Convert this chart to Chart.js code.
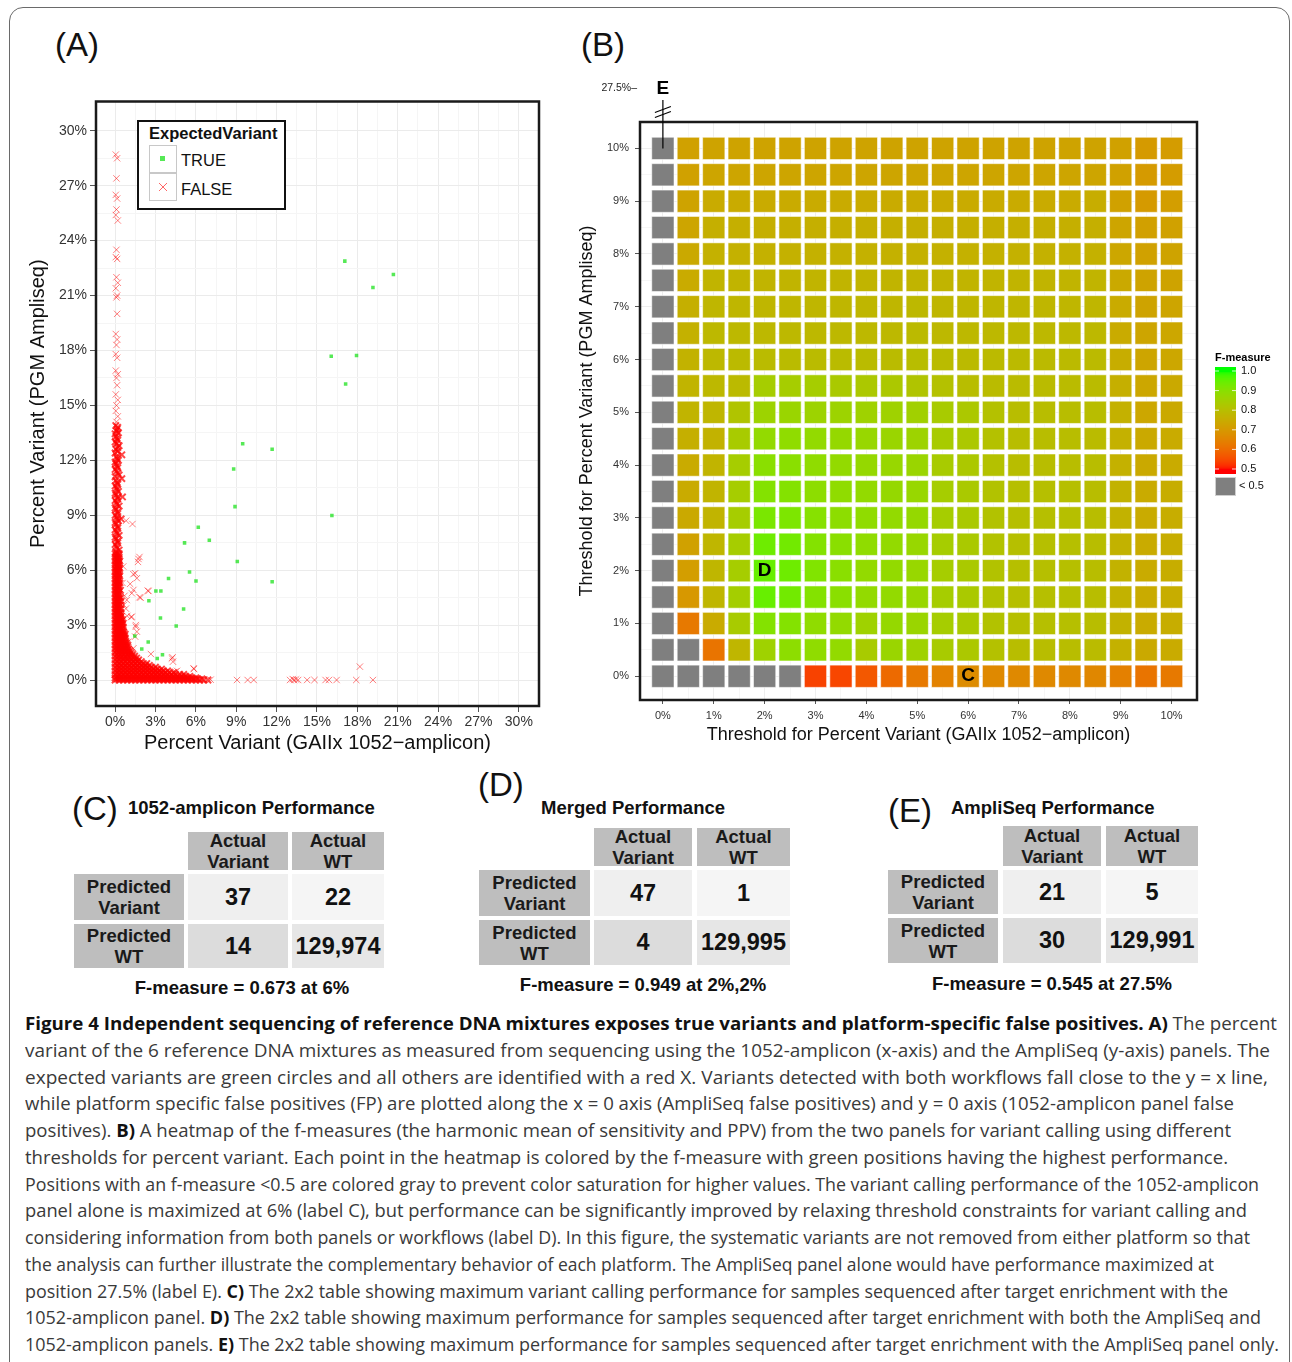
<!DOCTYPE html>
<html>
<head>
<meta charset="utf-8">
<title>Figure 4</title>
<script src="https://cdn.jsdelivr.net/npm/chart.js@4.4.1/dist/chart.umd.min.js"></script>
<style>
  body { margin:0; background:#fff; }
  #page { position:relative; width:1292px; height:1362px; overflow:hidden; font-family:"Liberation Sans", Arial, sans-serif; color:#111; }
  #frame { position:absolute; left:9px; top:7px; width:1279px; height:1400px; border:1.5px solid #6a6a6a; border-radius:14px; }
  .abs { position:absolute; }
  .plabel { position:absolute; font-size:33px; line-height:1; transform:translateY(-50%); }
  .ttl { position:absolute; font-weight:bold; font-size:18.5px; line-height:1; white-space:nowrap; transform:translateY(-50%); }
  .cell { position:absolute; display:flex; align-items:center; justify-content:center; text-align:center; font-weight:bold; }
  .hdr { background:#bebebe; font-size:18.5px; line-height:21px; color:#1a1a1a; }
  .val { font-size:23.5px; color:#111; }
  .fm { position:absolute; font-weight:bold; font-size:18.5px; white-space:nowrap; transform:translate(-50%,-50%); }
  #caption { position:absolute; left:25px; top:1010px; font-family:"Open Sans", sans-serif; font-size:18px; line-height:26.75px; color:#3a3a3a; white-space:nowrap; }
  #caption > div { width:max-content; transform-origin:0 50%; }
  #caption b { color:#111; }
  .key { position:absolute; width:26px; height:26px; border:1px solid #c8c8c8; }
</style>
</head>
<body>
<div id="page">
  <div id="frame"></div>
  <div class="plabel" style="left:55px;top:44px;">(A)</div>
  <div class="plabel" style="left:581px;top:44px;">(B)</div>
  <canvas id="scatterA" width="530" height="670" style="position:absolute;left:20px;top:95px;"></canvas>
  <canvas id="heatB" width="720" height="680" style="position:absolute;left:570px;top:75px;"></canvas>

  <div id="legendA" class="abs" style="left:137px;top:120px;width:145px;height:86px;border:2px solid #111;background:#fff;">
    <div class="abs" style="left:10px;top:2px;font-weight:bold;font-size:16.5px;">ExpectedVariant</div>
    <div class="key" style="left:10px;top:23px;"><div class="abs" style="left:10px;top:10px;width:5px;height:5px;background:rgba(30,225,30,0.75);"></div></div>
    <div class="key" style="left:10px;top:51px;"><svg width="26" height="26" class="abs" style="left:0;top:0"><line x1="9" y1="9" x2="17" y2="17" stroke="rgba(255,0,0,0.6)" stroke-width="1"/><line x1="17" y1="9" x2="9" y2="17" stroke="rgba(255,0,0,0.6)" stroke-width="1"/></svg></div>
    <div class="abs" style="left:42px;top:29px;font-size:16.5px;">TRUE</div>
    <div class="abs" style="left:42px;top:58px;font-size:16.5px;">FALSE</div>
  </div>

  <div id="tables"></div>

  <div id="caption">
    <div><b>Figure 4 Independent sequencing of reference DNA mixtures exposes true variants and platform-specific false positives. A)</b> The percent</div>
    <div>variant of the 6 reference DNA mixtures as measured from sequencing using the 1052-amplicon (x-axis) and the AmpliSeq (y-axis) panels. The</div>
    <div>expected variants are green circles and all others are identified with a red X. Variants detected with both workflows fall close to the y = x line,</div>
    <div>while platform specific false positives (FP) are plotted along the x = 0 axis (AmpliSeq false positives) and y = 0 axis (1052-amplicon panel false</div>
    <div>positives). <b>B)</b> A heatmap of the f-measures (the harmonic mean of sensitivity and PPV) from the two panels for variant calling using different</div>
    <div>thresholds for percent variant. Each point in the heatmap is colored by the f-measure with green positions having the highest performance.</div>
    <div>Positions with an f-measure &lt;0.5 are colored gray to prevent color saturation for higher values. The variant calling performance of the 1052-amplicon</div>
    <div>panel alone is maximized at 6% (label C), but performance can be significantly improved by relaxing threshold constraints for variant calling and</div>
    <div>considering information from both panels or workflows (label D). In this figure, the systematic variants are not removed from either platform so that</div>
    <div>the analysis can further illustrate the complementary behavior of each platform. The AmpliSeq panel alone would have performance maximized at</div>
    <div>position 27.5% (label E). <b>C)</b> The 2x2 table showing maximum variant calling performance for samples sequenced after target enrichment with the</div>
    <div>1052-amplicon panel. <b>D)</b> The 2x2 table showing maximum performance for samples sequenced after target enrichment with both the AmpliSeq and</div>
    <div>1052-amplicon panels. <b>E)</b> The 2x2 table showing maximum performance for samples sequenced after target enrichment with the AmpliSeq panel only.</div>
  </div>
</div>

<script>
// ---- Panel A data: percent variant (x = GAIIx 1052-amplicon, y = PGM AmpliSeq)
var trueVariants = [[17.07,22.88],[20.68,22.15],[19.16,21.44],[16.06,17.69],[17.94,17.72],[17.13,16.17],
  [9.48,12.9],[11.67,12.6],[8.81,11.53],[8.91,9.47],[16.11,8.98],[6.18,8.34],[7.0,7.63],[5.16,7.49],
  [9.08,6.47],[5.53,5.9],[3.97,5.54],[6.01,5.41],[11.67,5.37],[3.03,4.86],[3.4,4.86],[2.51,4.33],
  [5.09,3.88],[3.37,3.39],[4.54,2.95],[1.46,2.4],[2.46,2.08],[1.98,1.69],[3.52,1.38],[3.13,1.18]];

// false calls along x = 0 (AmpliSeq only)
var fpAmpliseqUpper = [[0.05,28.7],[0.15,28.5],[0.1,27.4],[0.05,26.5],[0.15,26.3],[0.1,25.7],[0.05,25.4],[0.2,25.1],
  [0.1,23.5],[0.05,23.1],[0.15,23.0],[0.1,22.0],[0.2,21.7],[0.05,21.4],[0.15,21.0],[0.1,20.9],[0.15,20.0],
  [0.05,18.9],[0.15,18.6],[0.1,18.3],[0.05,17.8],[0.15,17.6],[0.05,16.9],[0.2,16.7],[0.1,16.5],[0.15,16.1],
  [0.05,15.6],[0.2,15.3],[0.1,15.0],[0.05,14.7],[0.2,14.4],[0.1,14.1]];
var fpAmpliseqBand = [[0.05,13.9],[0.2,13.8],[0.1,13.6],[0.25,13.5],[0.05,13.3],[0.2,13.1],[0.1,12.9],[0.3,12.8],
  [0.05,12.6],[0.2,12.5],[0.5,12.3],[0.1,12.2],[0.25,12.0],[0.05,11.8],[0.2,11.6],[0.1,11.4],[0.3,11.2],
  [0.5,11.0],[0.05,10.9],[0.2,10.7],[0.1,10.5],[0.25,10.3],[0.05,10.1],[0.55,10.0],[0.2,9.9],[0.1,9.7],
  [0.3,9.5],[0.05,9.3],[0.2,9.1],[0.1,8.9],[0.45,8.8],[0.25,8.7],[0.05,8.5],[0.2,8.3],[0.1,8.1],[0.3,7.9],
  [0.05,7.7],[0.2,7.5],[0.1,7.3],[0.3,7.1],[0.05,7.0],
  [0.15,13.7],[0.0,13.45],[0.15,13.2],[0.0,13.0],[0.2,12.7],[0.0,12.4],[0.15,12.1],[0.0,11.9],[0.15,11.7],
  [0.0,11.5],[0.2,11.3],[0.0,11.1],[0.15,10.8],[0.0,10.6],[0.15,10.4],[0.0,10.2],[0.2,10.0],[0.0,9.8],
  [0.15,9.6],[0.0,9.4],[0.2,9.2],[0.0,9.0],[0.15,8.8],[0.0,8.6],[0.2,8.4],[0.0,8.2],[0.15,8.0],[0.0,7.8],
  [0.2,7.6],[0.0,7.4],[0.15,7.2]];

// dense low-frequency noise near the origin: [y, x values]
var noiseRows = [
  [6.9,[0,0.15,0.3]],[6.8,[0.08,0.25]],[6.7,[0,0.15,0.3]],[6.6,[0.08,0.25]],[6.5,[0,0.2,0.35]],[6.4,[0.08,0.25]],
  [6.3,[0,0.15,0.3]],[6.2,[0.08,0.25]],[6.1,[0,0.2,0.35]],[6.0,[0.08,0.25]],[5.9,[0,0.15,0.3]],[5.8,[0.08,0.25]],
  [5.7,[0,0.2,0.35]],[5.6,[0.08,0.25]],[5.5,[0,0.15,0.3]],[5.4,[0.08,0.25]],[5.3,[0,0.2,0.35]],[5.2,[0.08,0.25]],
  [5.1,[0,0.15,0.3]],[5.0,[0.08,0.25]],[4.9,[0,0.2,0.4]],[4.8,[0.08,0.25]],[4.7,[0,0.15,0.3]],[4.6,[0.08,0.25]],
  [4.5,[0,0.2,0.4]],[4.4,[0.08,0.25]],[4.3,[0,0.15,0.3,0.45]],[4.2,[0.08,0.25]],[4.1,[0,0.2,0.4]],[4.0,[0.08,0.25]],
  [3.9,[0,0.15,0.3,0.45]],[3.8,[0.08,0.25]],[3.7,[0,0.2,0.4]],[3.6,[0.1,0.25,0.4]],[3.5,[0,0.15,0.3,0.45]],
  [3.4,[0.1,0.25,0.4]],[3.3,[0,0.2,0.4,0.55]],[3.2,[0.1,0.3,0.5]],[3.1,[0,0.15,0.3,0.45,0.6]],[3.0,[0.1,0.3,0.5]],
  [2.9,[0,0.2,0.4,0.6]],[2.8,[0.1,0.3,0.5]],[2.7,[0,0.15,0.3,0.45,0.6]],[2.6,[0.1,0.3,0.5,0.65]],
  [2.5,[0,0.2,0.4,0.6,0.75]],[2.4,[0.1,0.3,0.5,0.7]],[2.3,[0,0.15,0.3,0.45,0.6,0.75]],[2.2,[0.1,0.3,0.5,0.7]],
  [2.1,[0,0.2,0.4,0.6,0.8]],[2.0,[0.1,0.3,0.5,0.7,0.85]],[1.9,[0,0.2,0.4,0.6,0.8,0.95]],[1.8,[0.1,0.3,0.5,0.7,0.9]],
  [1.7,[0,0.2,0.4,0.6,0.8,1.0]],[1.6,[0.1,0.3,0.5,0.7,0.9,1.1]],[1.5,[0,0.25,0.5,0.75,1.0,1.2]],
  [1.4,[0.15,0.4,0.65,0.9,1.1,1.3]],[1.3,[0,0.25,0.5,0.75,1.0,1.25,1.45]],[1.2,[0.15,0.4,0.65,0.9,1.15,1.4,1.6]],
  [1.1,[0,0.3,0.6,0.9,1.2,1.5,1.75]],[1.0,[0.15,0.45,0.75,1.05,1.35,1.65,1.95]],
  [0.9,[0,0.3,0.6,0.9,1.2,1.5,1.8,2.1,2.35]],[0.8,[0.15,0.45,0.75,1.05,1.35,1.65,1.95,2.25,2.55]],
  [0.7,[0,0.3,0.6,0.9,1.2,1.5,1.8,2.1,2.4,2.7,3.0]],[0.6,[0.15,0.45,0.75,1.05,1.35,1.65,1.95,2.25,2.55,2.85,3.15,3.45]],
  [0.5,[0,0.3,0.6,0.9,1.2,1.5,1.8,2.1,2.4,2.7,3.0,3.3,3.6,3.9]],
  [0.4,[0.15,0.45,0.75,1.05,1.35,1.65,1.95,2.25,2.55,2.85,3.15,3.45,3.75,4.05,4.35]],
  [0.3,[0,0.3,0.6,0.9,1.2,1.5,1.8,2.1,2.4,2.7,3.0,3.3,3.6,3.9,4.2,4.5,4.8,5.1]],
  [0.2,[0.15,0.45,0.75,1.05,1.35,1.65,1.95,2.25,2.55,2.85,3.15,3.45,3.75,4.05,4.35,4.65,4.95,5.25,5.55]],
  [0.12,[0,0.3,0.6,0.9,1.2,1.5,1.8,2.1,2.4,2.7,3.0,3.3,3.6,3.9,4.2,4.5,4.8,5.1,5.4,5.7,6.0]],
  [0.06,[0.15,0.45,0.75,1.05,1.35,1.65,1.95,2.25,2.55,2.85,3.15,3.45,3.75,4.05,4.35,4.65,4.95,5.25,5.55,5.85,6.15,6.45]],
  [0,[0,0.3,0.6,0.9,1.2,1.5,1.8,2.1,2.4,2.7,3.0,3.3,3.6,3.9,4.2,4.5,4.8,5.1,5.4,5.7,6.0,6.3,6.6,6.9]]
];
var noiseStragglers = [[0.6,6.2],[0.55,5.3],[0.7,4.6],[0.8,3.9],[0.65,4.1],[0.9,3.5],[0.82,8.7],[1.29,8.52],
  [1.74,6.61],[1.81,6.72],[1.7,6.45],[1.49,5.83],[1.62,5.56],[1.36,5.78],[1.12,5.25],[1.36,4.92],[1.24,4.74],
  [0.87,4.37],[1.81,4.52],[2.43,4.88],[2.48,4.86],[1.9,4.5],[1.19,3.43],[1.24,3.46],[1.54,2.91],[1.54,3.0],
  [1.62,2.64],[1.49,2.37],[0.99,2.09],[1.36,1.73],[2.66,1.42],[4.22,1.18],[4.3,1.0],[4.27,1.24],[2.18,0.73],
  [5.83,0.64],[5.86,0.6],[4.47,0.46],[4.6,0.5],[3.67,0.37]];
// false calls along y = 0 (1052-amplicon only)
var fpAmpliconStrip = [[7.1,0.02],[9.06,0],[9.85,0],[10.3,0],[13.0,0],[13.2,0.05],[13.3,0],[13.45,0.03],[13.6,0],
  [14.27,0],[14.82,0],[15.64,0],[15.89,0],[16.46,0],[17.92,0],[19.16,0],[18.19,0.73]];
var pctGridA = [0,1.5,3,4.5,6,7.5,9,10.5,12,13.5,15,16.5,18,19.5,21,22.5,24,25.5,27,28.5,30];

// ---- Panel B data: F-measure by threshold (rows = AmpliSeq threshold, cols = 1052-amplicon threshold)
var thresholds = [0,0.5,1,1.5,2,2.5,3,3.5,4,4.5,5,5.5,6,6.5,7,7.5,8,8.5,9,9.5,10];
var fmeasure = [
  [0.30,0.33,0.37,0.41,0.45,0.48,0.54,0.545,0.57,0.60,0.63,0.65,0.673,0.665,0.665,0.665,0.665,0.66,0.645,0.62,0.63],
  [0.40,0.47,0.62,0.78,0.86,0.895,0.89,0.885,0.84,0.87,0.86,0.84,0.83,0.81,0.80,0.80,0.80,0.795,0.765,0.745,0.75],
  [0.42,0.63,0.75,0.84,0.91,0.91,0.89,0.885,0.86,0.88,0.87,0.845,0.835,0.815,0.805,0.805,0.805,0.80,0.77,0.75,0.755],
  [0.43,0.70,0.78,0.85,0.948,0.935,0.91,0.90,0.885,0.885,0.875,0.845,0.835,0.815,0.805,0.805,0.805,0.80,0.77,0.75,0.755],
  [0.43,0.715,0.78,0.845,0.949,0.94,0.915,0.90,0.885,0.885,0.875,0.845,0.835,0.815,0.805,0.805,0.805,0.80,0.77,0.75,0.755],
  [0.44,0.725,0.78,0.845,0.94,0.935,0.91,0.90,0.89,0.885,0.875,0.845,0.835,0.815,0.805,0.805,0.805,0.80,0.77,0.75,0.755],
  [0.44,0.745,0.775,0.845,0.925,0.92,0.905,0.895,0.89,0.885,0.88,0.845,0.835,0.815,0.805,0.805,0.805,0.80,0.77,0.75,0.755],
  [0.44,0.75,0.775,0.845,0.91,0.91,0.895,0.89,0.885,0.88,0.875,0.845,0.835,0.815,0.805,0.805,0.805,0.80,0.77,0.75,0.755],
  [0.45,0.75,0.775,0.845,0.90,0.90,0.89,0.885,0.88,0.875,0.87,0.84,0.83,0.81,0.80,0.80,0.80,0.80,0.765,0.745,0.75],
  [0.45,0.76,0.77,0.84,0.885,0.89,0.885,0.88,0.875,0.87,0.865,0.84,0.83,0.81,0.80,0.80,0.80,0.795,0.765,0.745,0.75],
  [0.45,0.775,0.78,0.82,0.865,0.87,0.865,0.865,0.86,0.86,0.855,0.84,0.83,0.81,0.80,0.80,0.80,0.80,0.765,0.74,0.745],
  [0.45,0.775,0.785,0.79,0.845,0.845,0.845,0.835,0.83,0.83,0.82,0.81,0.80,0.795,0.795,0.795,0.795,0.795,0.76,0.74,0.745],
  [0.46,0.77,0.785,0.79,0.795,0.795,0.795,0.795,0.795,0.795,0.80,0.795,0.79,0.79,0.79,0.79,0.79,0.79,0.755,0.735,0.74],
  [0.46,0.765,0.785,0.785,0.785,0.785,0.785,0.785,0.785,0.785,0.79,0.785,0.785,0.785,0.785,0.785,0.785,0.785,0.75,0.735,0.74],
  [0.46,0.76,0.78,0.78,0.78,0.78,0.78,0.78,0.78,0.78,0.785,0.78,0.78,0.78,0.78,0.78,0.78,0.78,0.75,0.73,0.735],
  [0.46,0.75,0.775,0.775,0.775,0.775,0.775,0.775,0.775,0.775,0.775,0.775,0.775,0.775,0.775,0.775,0.775,0.775,0.745,0.73,0.73],
  [0.46,0.745,0.765,0.765,0.765,0.765,0.765,0.765,0.765,0.765,0.765,0.765,0.765,0.765,0.765,0.765,0.765,0.765,0.74,0.725,0.73],
  [0.46,0.735,0.76,0.76,0.76,0.76,0.76,0.76,0.76,0.76,0.76,0.76,0.76,0.76,0.76,0.76,0.76,0.76,0.735,0.72,0.725],
  [0.46,0.73,0.75,0.75,0.75,0.75,0.75,0.75,0.75,0.75,0.75,0.75,0.75,0.75,0.75,0.75,0.75,0.755,0.725,0.705,0.715],
  [0.46,0.725,0.735,0.735,0.735,0.735,0.735,0.735,0.735,0.735,0.735,0.735,0.735,0.735,0.735,0.735,0.735,0.735,0.725,0.705,0.71],
  [0.46,0.725,0.73,0.73,0.73,0.73,0.73,0.73,0.73,0.73,0.73,0.73,0.73,0.73,0.73,0.73,0.73,0.73,0.725,0.705,0.71]
];
var legendValues = [1.0,0.9,0.8,0.7,0.6,0.5];

// ---- Panels C-E: 2x2 tables [TP, FP, FN, TN]
var tableTitles = ['1052-amplicon Performance','Merged Performance','AmpliSeq Performance'];
var tableCounts = [[37,22,14,129974],[47,1,4,129995],[21,5,30,129991]];
var tableFLabels = ['F-measure = 0.673 at 6%','F-measure = 0.949 at 2%,2%','F-measure = 0.545 at 27.5%'];
var colHeaders = ['Actual<br>Variant','Actual<br>WT'];
var rowHeaders = ['Predicted<br>Variant','Predicted<br>WT'];

Chart.defaults.font.family = '"Liberation Sans", Arial, sans-serif';
Chart.defaults.color = '#333';

// colour: red->green gradient in Lab space, gray below 0.5
function toLinear(c){ c/=255; return c<=0.04045 ? c/12.92 : Math.pow((c+0.055)/1.055,2.4); }
function toSrgb(c){ c = c<=0.0031308 ? 12.92*c : 1.055*Math.pow(c,1/2.4)-0.055; return Math.round(255*Math.min(1,Math.max(0,c))); }
function rgbToLab(r,g,b){
  var R=toLinear(r),G=toLinear(g),B=toLinear(b);
  var X=(0.4124*R+0.3576*G+0.1805*B)/0.95047, Y=0.2126*R+0.7152*G+0.0722*B, Z=(0.0193*R+0.1192*G+0.9505*B)/1.08883;
  var f=function(t){ return t>0.008856 ? Math.cbrt(t) : 7.787*t+16/116; };
  return [116*f(Y)-16, 500*(f(X)-f(Y)), 200*(f(Y)-f(Z))];
}
function labToRgb(L,a,b){
  var fy=(L+16)/116, fx=fy+a/500, fz=fy-b/200;
  var inv=function(t){ return t*t*t>0.008856 ? t*t*t : (t-16/116)/7.787; };
  var X=inv(fx)*0.95047, Y=inv(fy), Z=inv(fz)*1.08883;
  return 'rgb('+toSrgb(3.2406*X-1.5372*Y-0.4986*Z)+','+toSrgb(-0.9689*X+1.8758*Y+0.0415*Z)+','+toSrgb(0.0557*X-0.2040*Y+1.0570*Z)+')';
}
var labLow = rgbToLab(255,0,0), labHigh = rgbToLab(0,255,0);
function fColor(f){
  if (f < 0.5) return '#7f7f7f';
  var t = Math.min(1,(f-0.5)/0.5);
  return labToRgb(labLow[0]+t*(labHigh[0]-labLow[0]), labLow[1]+t*(labHigh[1]-labLow[1]), labLow[2]+t*(labHigh[2]-labLow[2]));
}

function toXY(p){ return {x:p[0], y:p[1]}; }
var sparseFalse = fpAmpliseqUpper.concat(noiseStragglers, fpAmpliconStrip).map(toXY);
var denseFalse = fpAmpliseqBand.map(toXY);
noiseRows.forEach(function(row){ row[1].forEach(function(x){ denseFalse.push({x:x, y:row[0]}); }); });
var truePoints = trueVariants.map(toXY);

var cells = [];
fmeasure.forEach(function(row, r){ row.forEach(function(f, c){ cells.push({x:thresholds[c], y:thresholds[r], f:f}); }); });

// draws the dark panel border
var panelFrame = {
  id: 'panelFrame',
  afterDatasetsDraw: function(chart){
    var a = chart.chartArea, c = chart.ctx;
    c.save(); c.lineWidth = 2.5; c.strokeStyle = '#1a1a1a';
    c.strokeRect(a.left, a.top, a.right-a.left, a.bottom-a.top);
    c.restore();
  }
};

function isMajorA(v){ return v >= 0 && Math.abs(v/3 - Math.round(v/3)) < 1e-9; }
function fixX(h){ return function(s){ s.height = h; s.paddingLeft = 0; s.paddingRight = 0; }; }
function fixY(w){ return function(s){ s.width = w; s.paddingTop = 0; s.paddingBottom = 0; }; }

var axisA = function(title, isX){
  return {
    type:'linear', min: isX ? -1.42 : -1.42, max: isX ? 31.5 : 31.6,
    afterFit: isX ? fixX(59) : fixY(76),
    afterBuildTicks: function(s){ s.ticks = pctGridA.map(function(v){ return {value:v}; }); },
    ticks:{ autoSkip:false, maxRotation:0, font:{ size:14 }, color:'#333', padding: isX ? 2 : 3,
      callback: function(v){ return isMajorA(v) ? v + '%' : ''; } },
    grid:{ color: function(c){ return isMajorA(c.tick.value) ? '#ebebeb' : '#f5f5f5'; },
      tickColor: function(c){ return isMajorA(c.tick.value) ? '#555' : 'rgba(0,0,0,0)'; }, tickLength:6 },
    border:{ display:false },
    title:{ display:true, text:title, font:{ size:20 }, color:'#111', padding: isX ? { top:0, bottom:10 } : { top:6, bottom:0 } }
  };
};

new Chart(document.getElementById('scatterA'), {
  type: 'scatter',
  data: { datasets: [
    { label:'TRUE', data: truePoints, pointStyle:'rect', pointRadius:2.5, pointBackgroundColor:'rgba(30,225,30,0.75)', pointBorderWidth:0 },
    { label:'FALSE', data: sparseFalse, pointStyle:'crossRot', pointRadius:4.5, pointBorderColor:'rgba(255,0,0,0.5)', pointBorderWidth:1 },
    { label:'FALSE (dense)', data: denseFalse, pointStyle:'crossRot', pointRadius:4.5, pointBorderColor:'rgba(255,0,0,0.72)', pointBorderWidth:2 }
  ]},
  options: {
    responsive:false, animation:false, events:[],
    layout:{ padding:{ top:6, right:11, left:0, bottom:0 } },
    plugins:{ legend:{ display:false }, tooltip:{ enabled:false } },
    scales:{
      x: axisA('Percent Variant (GAIIx 1052\u2212amplicon)', true),
      y: axisA('Percent Variant (PGM Ampliseq)', false)
    }
  },
  plugins:[panelFrame]
});

// heatmap annotations: cell labels, the 27.5% break marker and the colour legend
var heatExtras = {
  id: 'heatExtras',
  afterDatasetsDraw: function(chart){
    var c = chart.ctx, a = chart.chartArea, sx = chart.scales.x, sy = chart.scales.y;
    c.save();
    c.fillStyle = '#000'; c.textAlign = 'center'; c.textBaseline = 'middle';
    c.font = 'bold 19px "Liberation Sans", Arial, sans-serif';
    c.fillText('D', sx.getPixelForValue(2), sy.getPixelForValue(2));
    c.fillText('C', sx.getPixelForValue(6), sy.getPixelForValue(0));
    var x0 = sx.getPixelForValue(0);
    c.fillText('E', x0, a.top - 33);
    c.strokeStyle = '#000'; c.lineWidth = 1.2;
    c.beginPath(); c.moveTo(x0, a.top - 22); c.lineTo(x0, sy.getPixelForValue(10)); c.stroke();
    [a.top - 12.5, a.top - 7.5].forEach(function(y){
      c.beginPath(); c.moveTo(x0 - 8, y + 3); c.lineTo(x0 + 8, y - 3); c.stroke();
    });
    c.font = '10.5px "Liberation Sans", Arial, sans-serif'; c.textAlign = 'right'; c.fillStyle = '#222';
    c.fillText('27.5%\u2013', a.left - 3, a.top - 34);

    // colour bar
    var bx = 645, bw = 21, yTop = 296, yBot = 394;
    c.textAlign = 'left';
    c.font = 'bold 11px "Liberation Sans", Arial, sans-serif'; c.fillStyle = '#000';
    c.fillText('F-measure', bx, 283);
    for (var y = yTop - 4; y <= yBot + 4; y++) {
      var f = 0.5 + 0.5 * (yBot - y) / (yBot - yTop);
      c.fillStyle = fColor(Math.max(0.5, Math.min(1, f)));
      c.fillRect(bx, y, bw, 1);
    }
    c.font = '11px "Liberation Sans", Arial, sans-serif';
    legendValues.forEach(function(v){
      var y = yBot - (v - 0.5) / 0.5 * (yBot - yTop);
      c.strokeStyle = 'rgba(255,255,255,0.8)'; c.lineWidth = 1;
      c.beginPath(); c.moveTo(bx, y); c.lineTo(bx + 4, y); c.moveTo(bx + bw - 4, y); c.lineTo(bx + bw, y); c.stroke();
      c.fillStyle = '#111';
      c.fillText(v.toFixed(1), bx + bw + 5, y);
    });
    c.fillStyle = '#7f7f7f'; c.fillRect(bx, 402, bw, 19);
    c.strokeStyle = '#cfcfcf'; c.strokeRect(bx + 0.5, 402.5, bw - 1, 18);
    c.fillStyle = '#111'; c.fillText('< 0.5', bx + bw + 3, 411);
    c.restore();
  }
};

function isInt(v){ return Math.abs(v - Math.round(v)) < 1e-9; }

var axisB = function(title, isX){
  return {
    type:'linear', min:-0.45, max:10.5,
    afterFit: isX ? fixX(55) : fixY(70),
    afterBuildTicks: function(s){ s.ticks = thresholds.map(function(v){ return {value:v}; }); },
    ticks:{ autoSkip:false, maxRotation:0, font:{ size:11 }, color:'#333', padding: isX ? 5 : 6,
      callback: function(v){ return isInt(v) ? v + '%' : ''; } },
    grid:{ color: function(c){ return isInt(c.tick.value) ? '#eeeeee' : '#f6f6f6'; },
      tickColor: function(c){ return isInt(c.tick.value) ? '#555' : 'rgba(0,0,0,0)'; }, tickLength: isX ? 4 : 5 },
    border:{ display:false },
    title:{ display:true, text:title, font:{ size:18 }, color:'#111', padding: isX ? { top:0, bottom:9 } : { top:6, bottom:0 } }
  };
};

new Chart(document.getElementById('heatB'), {
  type: 'scatter',
  data: { datasets: [{
    label:'F-measure', data: cells, pointStyle:'rect',
    pointRadius: function(ctx){
      var s = ctx.chart.scales.x;
      return Math.abs(s.getPixelForValue(0.5) - s.getPixelForValue(0)) * 0.875 / Math.SQRT2;
    },
    pointBackgroundColor: function(ctx){ return fColor(ctx.raw.f); },
    pointBorderColor:'rgba(255,255,255,0.55)', pointBorderWidth:1
  }]},
  options: {
    responsive:false, animation:false, events:[],
    layout:{ padding:{ top:47, right:93, left:0, bottom:0 } },
    plugins:{ legend:{ display:false }, tooltip:{ enabled:false } },
    scales:{
      x: axisB('Threshold for Percent Variant (GAIIx 1052\u2212amplicon)', true),
      y: axisB('Threshold for Percent Variant (PGM Ampliseq)', false)
    }
  },
  plugins:[panelFrame, heatExtras]
});

// ---- tables C, D, E
var panels = [
  {label:'(C)', lx:72, ly:808, tx:128, ty:808, rowX:74, rowW:110, colX:[188,292], colW:[100,92], hdrTop:832, hdrH:38, rowTop:[874,924], rowH:[46,44], fx:242, fy:988},
  {label:'(D)', lx:478, ly:784, tx:541, ty:808, rowX:479, rowW:111, colX:[594,697], colW:[98,93], hdrTop:828, hdrH:38, rowTop:[870,920], rowH:[46,45], fx:643, fy:985},
  {label:'(E)', lx:888, ly:810, tx:951, ty:808, rowX:888, rowW:110, colX:[1003,1106], colW:[98,92], hdrTop:826, hdrH:40, rowTop:[870,918], rowH:[44,45], fx:1052, fy:984}
];
var valueShades = [['#efefef','#f5f5f5'],['#dcdcdc','#e6e6e6']];
var host = document.getElementById('tables');
function addDiv(cls, css, html){
  var d = document.createElement('div'); d.className = cls; d.style.cssText = css; d.innerHTML = html; host.appendChild(d); return d;
}
panels.forEach(function(p, i){
  addDiv('plabel', 'left:'+p.lx+'px;top:'+p.ly+'px;', p.label);
  addDiv('ttl', 'left:'+p.tx+'px;top:'+p.ty+'px;', tableTitles[i]);
  for (var c = 0; c < 2; c++) {
    addDiv('cell hdr', 'left:'+p.colX[c]+'px;top:'+p.hdrTop+'px;width:'+p.colW[c]+'px;height:'+p.hdrH+'px;', colHeaders[c]);
  }
  for (var r = 0; r < 2; r++) {
    addDiv('cell hdr', 'left:'+p.rowX+'px;top:'+p.rowTop[r]+'px;width:'+p.rowW+'px;height:'+p.rowH[r]+'px;', rowHeaders[r]);
    for (var c2 = 0; c2 < 2; c2++) {
      addDiv('cell val', 'left:'+p.colX[c2]+'px;top:'+p.rowTop[r]+'px;width:'+p.colW[c2]+'px;height:'+p.rowH[r]+'px;background:'+valueShades[r][c2]+';',
        tableCounts[i][r*2+c2].toLocaleString('en-US'));
    }
  }
  addDiv('fm', 'left:'+p.fx+'px;top:'+p.fy+'px;', tableFLabels[i]);
});

// stretch each caption line to the same right edge as the printed figure
var captionEnds = [1277,1270,1268,1234,1231,1228,1259,1247,1250,1214,1228,1261,1279];
Array.prototype.forEach.call(document.querySelectorAll('#caption > div'), function(d, i){
  var w = d.getBoundingClientRect().width;
  d.style.transform = 'scaleX(' + ((captionEnds[i] - 25) / w).toFixed(4) + ')';
});
</script>
</body>
</html>
